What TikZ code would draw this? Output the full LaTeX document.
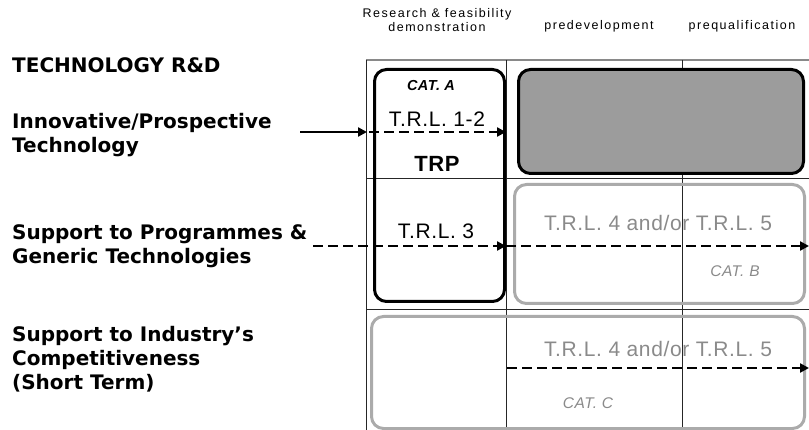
\documentclass[tikz,border=0pt]{standalone}
\usepackage{fontspec}
\setmainfont{DejaVu Sans}
\newfontfamily\boxfont[LetterSpace=3]{Liberation Sans}
\newfontfamily\headfont[LetterSpace=12]{Liberation Sans}
\usetikzlibrary{arrows.meta, positioning}

\definecolor{boxgray}{HTML}{9C9C9C}
\definecolor{linegray}{HTML}{ABABAB}
\definecolor{textgray}{HTML}{8A8A8A}

\begin{document}
\begin{tikzpicture}[x=1pt, y=-1pt,
    rowlabel/.style={anchor=west, align=left, inner sep=0pt, font=\fontsize{20}{24}\selectfont\bfseries},
    colhead/.style={align=center, inner sep=0pt, font=\headfont\fontsize{12.5}{14}\selectfont},
    blackbox/.style={draw=black, line width=3pt, rounded corners=12pt, anchor=north west, inner sep=0pt},
    greybox/.style={draw=linegray, line width=3pt, rounded corners=12pt, anchor=north west, inner sep=0pt},
    trl/.style={inner sep=0pt, font=\boxfont\fontsize{21}{24}\selectfont},
    cat/.style={inner sep=0pt, font=\boxfont\itshape\fontsize{15.5}{18}\selectfont},
    grid/.style={black!85, line width=0.9pt},
    flow/.style={line width=2.4pt, -{Triangle[length=9pt,width=9pt]}},
    dflow/.style={flow, dash pattern=on 10pt off 5pt}
]
    \useasboundingbox (0,0) rectangle (809,430);

    % Column headings
    \node[colhead] (research) at (437,20) {Research \& feasibility\\demonstration};
    \node[colhead] (predev) at (599,26) {predevelopment};
    \node[colhead] (prequal) at (742,26) {prequalification};

    % Grid
    \draw[line width=2pt, linegray!80!black] (366,60) -- (809,60);
    \draw[grid] (366,60) -- (366,430);
    \draw[grid] (506,60) -- (506,430);
    \draw[grid] (682,60) -- (682,430);
    \draw[grid] (366,178) -- (809,178);
    \draw[grid] (366,309) -- (809,309);

    % Row labels
    \node[rowlabel] (title) at (12,65) {TECHNOLOGY R\&D};
    \node[rowlabel] (innov) at (12,135) {Innovative/Prospective\\Technology};
    \node[rowlabel] (progr) at (12,246) {Support to Programmes \&\\Generic Technologies};
    \node[rowlabel] (indus) at (12,359) {Support to Industry’s\\Competitiveness\\(Short Term)};

    % Boxes
    \node[blackbox, minimum width=130pt, minimum height=232pt] (trp) at (373,68) {};
    \node[blackbox, fill=boxgray, minimum width=285pt, minimum height=104pt] (early) at (517,68) {};
    \node[greybox, minimum width=290pt, minimum height=119pt] (catb) at (513,183) {};
    \node[greybox, minimum width=433pt, minimum height=112pt] (catc) at (370,315) {};

    % Texts in the boxes
    \node[cat, font=\boxfont\itshape\bfseries\fontsize{14.5}{17}\selectfont] (cata) at (431,86) {CAT. A};
    \node[trl] (trl12) at (437,119) {T.R.L. 1-2};
    \node[trl, font=\boxfont\bfseries\fontsize{22}{24}\selectfont] (trplabel) at (437,164) {TRP};
    \node[trl] (trl3) at (436,231) {T.R.L. 3};
    \node[trl, textgray] (trl45b) at (658,223) {T.R.L. 4 and/or T.R.L. 5};
    \node[cat, textgray] (catblabel) at (735,271) {CAT. B};
    \node[trl, textgray] (trl45c) at (658,349) {T.R.L. 4 and/or T.R.L. 5};
    \node[cat, textgray] (catclabel) at (588,403) {CAT. C};

    % Flows
    \coordinate (innov-out) at (300,132);
    \coordinate (progr-out) at (313,246);
    \coordinate (indus-in) at (507,368);
    \coordinate (right-b) at (809,246);
    \coordinate (right-c) at (809,368);
    \draw[flow] (innov-out) -- (367,132);
    \draw[dflow] (369,132) -- (trp.east |- innov-out);
    \draw[dflow] (progr-out) -- (trp.east |- progr-out);
    \draw[dflow] (trp.east |- progr-out) -- (right-b);
    \draw[dflow] (indus-in) -- (right-c);
\end{tikzpicture}
\end{document}
